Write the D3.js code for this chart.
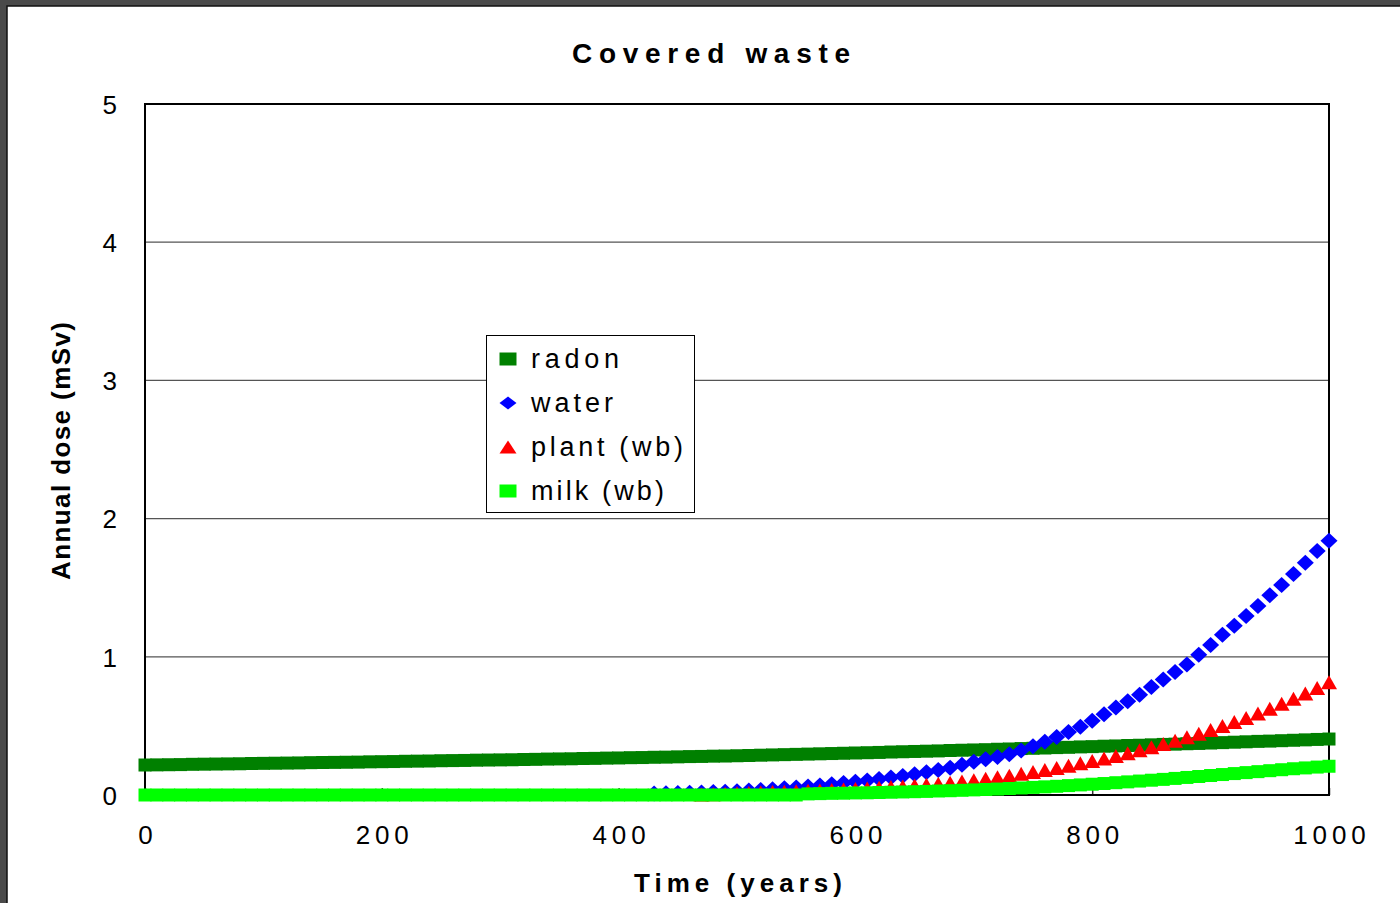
<!DOCTYPE html>
<html><head><meta charset="utf-8">
<script src="https://cdn.jsdelivr.net/npm/d3@7"></script>
<style>html,body{margin:0;padding:0;background:#4a4a4a;}svg{display:block;}</style>
</head><body>
<svg id="c" width="1400" height="903"></svg>
<script>
const title = "Covered waste";
const xLabel = "Time (years)";
const yLabel = "Annual dose (mSv)";
const xTicks = [0, 200, 400, 600, 800, 1000];
const yTicks = [0, 1, 2, 3, 4, 5];
const seriesNames = ["radon", "water", "plant (wb)", "milk (wb)"];
const seriesColors = ["#008000", "#0000ff", "#ff0000", "#00ff00"];
const seriesShapes = ["square", "diamond", "triangle", "square"];
// years 0,10,...,1000 ; null = no visible marker (value ~0 hidden under milk band)
const years = [0,10,20,30,40,50,60,70,80,90,100,110,120,130,140,150,160,170,180,190,200,210,220,230,240,250,260,270,280,290,300,310,320,330,340,350,360,370,380,390,400,410,420,430,440,450,460,470,480,490,500,510,520,530,540,550,560,570,580,590,600,610,620,630,640,650,660,670,680,690,700,710,720,730,740,750,760,770,780,790,800,810,820,830,840,850,860,870,880,890,900,910,920,930,940,950,960,970,980,990,1000];
const radon = [0.217,0.218,0.219,0.220,0.222,0.223,0.224,0.225,0.226,0.228,
0.229,0.230,0.231,0.232,0.234,0.235,0.236,0.237,0.238,0.240,
0.241,0.242,0.244,0.245,0.246,0.248,0.249,0.250,0.252,0.253,
0.254,0.255,0.257,0.258,0.260,0.261,0.262,0.264,0.265,0.267,
0.268,0.270,0.271,0.273,0.274,0.276,0.278,0.279,0.281,0.282,
0.284,0.286,0.288,0.290,0.292,0.294,0.296,0.298,0.300,0.302,
0.304,0.306,0.308,0.311,0.313,0.315,0.317,0.319,0.322,0.324,
0.326,0.328,0.331,0.333,0.336,0.338,0.340,0.343,0.345,0.348,
0.350,0.353,0.355,0.358,0.360,0.363,0.366,0.368,0.371,0.373,
0.376,0.379,0.382,0.385,0.388,0.390,0.393,0.396,0.399,0.402,0.405];
const water = [null,null,null,null,null,null,null,null,null,null,
null,null,null,null,null,null,null,null,null,null,
null,null,null,null,null,null,null,null,null,null,
null,null,null,null,null,null,null,null,null,null,
null,null,null,0.010,0.012,0.014,0.016,0.018,0.021,0.024,
0.028,0.032,0.037,0.042,0.048,0.055,0.062,0.069,0.077,0.086,
0.095,0.105,0.115,0.126,0.138,0.150,0.164,0.180,0.198,0.218,
0.240,0.258,0.275,0.295,0.322,0.352,0.386,0.420,0.455,0.494,
0.538,0.584,0.634,0.678,0.726,0.782,0.836,0.890,0.945,1.015,
1.085,1.160,1.225,1.295,1.368,1.445,1.520,1.600,1.680,1.765,1.840];
const plant = [null,null,null,null,null,null,null,null,null,null,
null,null,null,null,null,null,null,null,null,null,
null,null,null,null,null,null,null,null,null,null,
null,null,null,null,null,null,null,null,null,null,
null,null,null,null,null,null,null,0.003,0.006,0.009,
0.012,0.015,0.018,0.021,0.024,0.027,0.030,0.033,0.036,0.039,
0.043,0.047,0.052,0.057,0.062,0.068,0.074,0.081,0.089,0.098,
0.107,0.117,0.128,0.140,0.153,0.167,0.181,0.196,0.212,0.229,
0.246,0.264,0.283,0.303,0.324,0.346,0.369,0.393,0.418,0.444,
0.471,0.499,0.528,0.558,0.589,0.625,0.660,0.697,0.735,0.775,0.815];
const milk = [0,0,0,0,0,0,0,0,0,0,
0,0,0,0,0,0,0,0,0,0,
0,0,0,0,0,0,0,0,0,0,
0,0,0,0,0,0,0,0,0,0,
0,0,0,0,0,0,0,0,0,0,
0,0,0,0,0,0,0.008,0.010,0.012,0.013,
0.015,0.016,0.018,0.020,0.022,0.024,0.026,0.029,0.031,0.034,
0.037,0.040,0.043,0.047,0.051,0.055,0.059,0.063,0.068,0.073,
0.078,0.083,0.089,0.095,0.101,0.107,0.113,0.120,0.127,0.134,
0.141,0.148,0.155,0.162,0.169,0.176,0.183,0.190,0.196,0.202,0.208];
const seriesValues = [radon, water, plant, milk];

const FONT = "'Liberation Sans', Arial, sans-serif";
const svg = d3.select("#c");
svg.append("rect").attr("x",0).attr("y",0).attr("width",1400).attr("height",903).attr("fill","#4a4a4a");
svg.append("rect").attr("x",7).attr("y",6).attr("width",1400).attr("height",910)
  .attr("fill","#fff").attr("stroke","#111").attr("stroke-width",1.5);

const x = d3.scaleLinear().domain([0,1000]).range([145,1329]);
const y = d3.scaleLinear().domain([0,5]).range([795,104]);

// gridlines
svg.append("g").selectAll("line").data(yTicks.filter(v=>v>0&&v<5)).join("line")
  .attr("x1",x(0)).attr("x2",x(1000)).attr("y1",d=>y(d)).attr("y2",d=>y(d))
  .attr("stroke","#555").attr("stroke-width",1.2);

// axes
const xAxis = svg.append("g").attr("transform",`translate(0,${y(0)})`)
  .call(d3.axisBottom(x).tickValues(xTicks).tickSize(-7).tickPadding(34).tickFormat(d3.format("d")));
xAxis.select(".domain").remove();
xAxis.selectAll(".tick line").attr("stroke","#333").attr("stroke-width",1.5);
xAxis.selectAll("text").attr("font-family",FONT).attr("font-size",26).attr("fill","#000")
  .attr("dy","0").attr("y",49)
  .each(function(d){const s=String(d); if(s.length>1){d3.select(this).attr("textLength", s.length*14+(s.length-1)*5.5).attr("lengthAdjust","spacing");}});

const yAxis = svg.append("g").attr("transform",`translate(${x(0)},0)`)
  .call(d3.axisLeft(y).tickValues(yTicks).tickSize(0).tickPadding(28).tickFormat(d3.format("d")));
yAxis.select(".domain").remove();
yAxis.selectAll("text").attr("font-family",FONT).attr("font-size",26).attr("fill","#000").attr("dy","0.36em");

// frame
svg.append("rect").attr("x",x(0)).attr("y",y(5)).attr("width",x(1000)-x(0)).attr("height",y(0)-y(5))
  .attr("fill","none").attr("stroke","#000").attr("stroke-width",2);

// markers
function shapePath(shape, w, h){
  const a=w/2, b=h/2;
  if(shape==="square") return `M${-a},${-b}H${a}V${b}H${-a}Z`;
  if(shape==="diamond") return `M0,${-b}L${a},0L0,${b}L${-a},0Z`;
  return `M0,${-b}L${a},${b}L${-a},${b}Z`;
}
const mSize = {square:[13,13], diamond:[17,16], triangle:[16,14]};
seriesValues.forEach((vals,i)=>{
  const sh = seriesShapes[i];
  const p = shapePath(sh, mSize[sh][0], mSize[sh][1]);
  const pts = years.map((yr,k)=>[yr,vals[k]]).filter(d=>d[1]!==null);
  svg.append("g").selectAll("path").data(pts).join("path")
    .attr("d",p).attr("transform",d=>`translate(${x(d[0])},${y(d[1])})`)
    .attr("fill",seriesColors[i]);
});

// title
svg.append("text").attr("x",711).attr("y",63).attr("text-anchor","middle")
  .attr("font-family",FONT).attr("font-weight","bold").attr("font-size",28)
  .attr("textLength",278).attr("lengthAdjust","spacing").text(title);
svg.append("text").attr("x",738).attr("y",892).attr("text-anchor","middle")
  .attr("font-family",FONT).attr("font-weight","bold").attr("font-size",26)
  .attr("textLength",208).attr("lengthAdjust","spacing").text(xLabel);
svg.append("text").attr("transform","translate(70,451) rotate(-90)").attr("text-anchor","middle")
  .attr("font-family",FONT).attr("font-weight","bold").attr("font-size",26)
  .attr("textLength",258).attr("lengthAdjust","spacing").text(yLabel);

// legend
const lg = svg.append("g");
lg.append("rect").attr("x",486.5).attr("y",335.5).attr("width",208).attr("height",177)
  .attr("fill","#fff").attr("stroke","#000").attr("stroke-width",1);
const legW = [88, 82, 152, 133];
seriesNames.forEach((n,i)=>{
  const cy = 359 + i*44;
  lg.append("path").attr("d",shapePath(seriesShapes[i],17,13)).attr("transform",`translate(508,${cy})`).attr("fill",seriesColors[i]);
  lg.append("text").attr("x",531).attr("y",cy+9).attr("font-family",FONT).attr("font-size",27)
    .attr("textLength",legW[i]).attr("lengthAdjust","spacing").text(n);
});
</script>
</body></html>
